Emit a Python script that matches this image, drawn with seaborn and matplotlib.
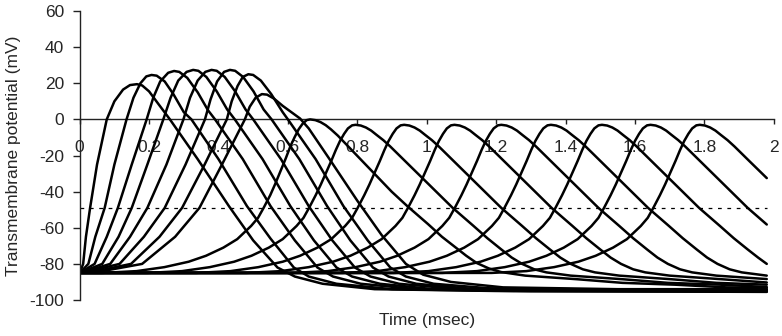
import numpy as np
import pandas as pd
import seaborn as sns
import matplotlib
matplotlib.use("Agg")
import matplotlib.pyplot as plt

# action potential traces: time (msec) and potential (mV)
times = [
    [0, 0.01, 0.018, 0.03, 0.05, 0.078, 0.1, 0.125, 0.145, 0.165, 0.18, 0.2, 0.225, 0.26, 0.34, 0.43, 0.5, 0.57, 0.62, 0.7, 0.85, 1.2, 1.98],
    [0, 0.025, 0.045, 0.072, 0.1, 0.135, 0.155, 0.175, 0.192, 0.207, 0.222, 0.245, 0.27, 0.3, 0.322, 0.4, 0.482, 0.55, 0.617, 0.66, 0.74, 0.9, 1.25, 1.98],
    [0, 0.043, 0.078, 0.11, 0.15, 0.193, 0.212, 0.232, 0.255, 0.272, 0.287, 0.31, 0.34, 0.37, 0.39, 0.47, 0.55, 0.62, 0.685, 0.73, 0.81, 0.97, 1.3, 1.98],
    [0, 0.065, 0.112, 0.15, 0.195, 0.241, 0.262, 0.284, 0.308, 0.327, 0.342, 0.365, 0.395, 0.425, 0.447, 0.527, 0.607, 0.675, 0.74, 0.785, 0.865, 1.02, 1.35, 1.98],
    [0, 0.02, 0.088, 0.145, 0.195, 0.25, 0.299, 0.318, 0.34, 0.362, 0.38, 0.395, 0.418, 0.448, 0.478, 0.5, 0.58, 0.66, 0.728, 0.793, 0.838, 0.92, 1.08, 1.4, 1.98],
    [0, 0.04, 0.115, 0.185, 0.245, 0.305, 0.361, 0.377, 0.396, 0.416, 0.433, 0.448, 0.471, 0.501, 0.53, 0.553, 0.633, 0.713, 0.78, 0.845, 0.89, 0.97, 1.13, 1.45, 1.98],
    [0, 0.06, 0.148, 0.23, 0.295, 0.36, 0.424, 0.438, 0.455, 0.47, 0.486, 0.5, 0.522, 0.552, 0.585, 0.6, 0.68, 0.76, 0.83, 0.895, 0.94, 1.02, 1.18, 1.5, 1.98],
    [0, 0.08, 0.18, 0.275, 0.345, 0.41, 0.476, 0.49, 0.507, 0.525, 0.54, 0.56, 0.585, 0.61, 0.635, 0.66, 0.72, 0.8, 0.87, 0.94, 0.99, 1.07, 1.22, 1.55, 1.98],
    [0, 0.064, 0.164, 0.244, 0.314, 0.364, 0.414, 0.454, 0.494, 0.514, 0.53, 0.549, 0.564, 0.579, 0.594, 0.607, 0.619, 0.631, 0.642, 0.654, 0.664,
     0.679, 0.694, 0.709, 0.724, 0.744, 0.764, 0.809, 0.854, 0.899, 0.944, 1.004, 1.044, 1.084, 1.114, 1.144, 1.179, 1.214, 1.284, 1.434, 1.564, 1.714, 1.864, 1.98],
    [0, 0.195, 0.295, 0.375, 0.445, 0.495, 0.545, 0.585, 0.625, 0.645, 0.661, 0.68, 0.695, 0.71, 0.725, 0.738, 0.75, 0.762, 0.773, 0.785, 0.795,
     0.81, 0.825, 0.84, 0.855, 0.875, 0.895, 0.94, 0.985, 1.03, 1.075, 1.135, 1.175, 1.215, 1.245, 1.275, 1.31, 1.345, 1.415, 1.565, 1.695, 1.845, 1.98],
    [0, 0.335, 0.435, 0.515, 0.585, 0.635, 0.685, 0.725, 0.765, 0.785, 0.801, 0.82, 0.835, 0.85, 0.865, 0.878, 0.89, 0.902, 0.913, 0.925, 0.935,
     0.95, 0.965, 0.98, 0.995, 1.015, 1.035, 1.08, 1.125, 1.17, 1.215, 1.275, 1.315, 1.355, 1.385, 1.415, 1.45, 1.485, 1.555, 1.705, 1.835, 1.98],
    [0, 0.48, 0.58, 0.66, 0.73, 0.78, 0.83, 0.87, 0.91, 0.93, 0.946, 0.965, 0.98, 0.995, 1.01, 1.023, 1.035, 1.047, 1.058, 1.07, 1.08,
     1.095, 1.11, 1.125, 1.14, 1.16, 1.18, 1.225, 1.27, 1.315, 1.36, 1.42, 1.46, 1.5, 1.53, 1.56, 1.595, 1.63, 1.7, 1.85, 1.98],
    [0, 0.615, 0.715, 0.795, 0.865, 0.915, 0.965, 1.005, 1.045, 1.065, 1.081, 1.1, 1.115, 1.13, 1.145, 1.158, 1.17, 1.182, 1.193, 1.205, 1.215,
     1.23, 1.245, 1.26, 1.275, 1.295, 1.315, 1.36, 1.405, 1.45, 1.495, 1.555, 1.595, 1.635, 1.665, 1.695, 1.73, 1.765, 1.835, 1.98],
    [0, 0.758, 0.858, 0.938, 1.008, 1.058, 1.108, 1.148, 1.188, 1.208, 1.224, 1.243, 1.258, 1.273, 1.288, 1.301, 1.313, 1.325, 1.336, 1.348, 1.358,
     1.373, 1.388, 1.403, 1.418, 1.438, 1.458, 1.503, 1.548, 1.593, 1.638, 1.698, 1.738, 1.778, 1.808, 1.838, 1.873, 1.908, 1.98],
    [0, 0.905, 1.005, 1.085, 1.155, 1.205, 1.255, 1.295, 1.335, 1.355, 1.371, 1.39, 1.405, 1.42, 1.435, 1.448, 1.46, 1.472, 1.483, 1.495, 1.505,
     1.52, 1.535, 1.55, 1.565, 1.585, 1.605, 1.65, 1.695, 1.74, 1.785, 1.845, 1.885, 1.925, 1.955, 1.98],
    [0, 1.045, 1.145, 1.225, 1.295, 1.345, 1.395, 1.435, 1.475, 1.495, 1.511, 1.53, 1.545, 1.56, 1.575, 1.588, 1.6, 1.612, 1.623, 1.635, 1.645,
     1.66, 1.675, 1.69, 1.705, 1.725, 1.745, 1.79, 1.835, 1.88, 1.925, 1.98],
    [0, 1.187, 1.287, 1.367, 1.437, 1.487, 1.537, 1.577, 1.617, 1.637, 1.653, 1.672, 1.687, 1.702, 1.717, 1.73, 1.742, 1.754, 1.765, 1.777, 1.787,
     1.802, 1.817, 1.832, 1.847, 1.867, 1.887, 1.932, 1.98],
]
volts = [
    [-85, -80, -65, -49, -25, 0, 10, 16.5, 19, 19.5, 18.8, 15.5, 9, 0, -22, -48, -67, -82, -87, -91, -94, -95, -95.5],
    [-85, -80, -65, -49, -25, 0, 12, 20, 23.8, 24.6, 24.2, 21, 14, 4, 0, -22, -48, -66, -82, -87, -91, -94, -95, -95.3],
    [-85, -80, -65, -49, -25, 0, 12, 21, 25.8, 26.8, 26.3, 23, 15, 5, 0, -22, -48, -67, -82, -87, -91, -94, -95, -95.2],
    [-85, -80, -65, -49, -25, 0, 12, 21.5, 26.3, 27.4, 26.9, 23.5, 15.5, 5.5, 0, -22, -48, -67, -82, -87, -91, -94, -94.8, -94.9],
    [-85, -84, -80, -65, -49, -25, 0, 12, 21.5, 26.3, 27.4, 26.9, 23.5, 15.5, 5.5, 0, -22, -48, -67, -82, -87, -91, -93.8, -94.6, -94.7],
    [-85, -83.5, -80, -65, -49, -25, 0, 11, 21, 26.3, 27.4, 26.9, 23.5, 15.5, 5.5, 0, -22, -48, -67, -82, -87, -91, -93.8, -94.5, -94.5],
    [-85, -83.5, -80, -65, -49, -25, 0, 10, 18.5, 23.5, 25, 24.6, 21.5, 14, 4, 0, -22, -48, -67, -82, -87, -91, -93.5, -94.2, -94.3],
    [-85, -83.5, -80, -65, -49, -25, 0, 7, 12, 14, 13.7, 11.5, 7.5, 4, 0.5, -5, -22, -45, -64, -80, -86, -90, -93, -94, -94],
    [-85, -85, -84, -81.8, -78.8, -75.5, -71, -66.3, -59, -54.5, -49, -42, -35.5, -28.5, -21.5, -15, -10, -5.5, -2.5, -0.4, 0,
     -0.4, -1.5, -3.2, -5.5, -9, -13, -22, -31, -40, -48, -58, -65, -71, -75.5, -79.5, -82.5, -84.5, -86.5, -88.5, -90.5, -91.5, -93, -93.3],
    [-85, -85, -84, -81.8, -78.8, -75.5, -71, -66.3, -59, -54.5, -49, -42, -36, -29.5, -23, -17, -12, -8, -5, -3.3, -3,
     -3.4, -4.5, -6.2, -8.5, -11.5, -15, -23.5, -32, -40.5, -49, -59, -65.8, -72, -76.5, -80, -83, -84.7, -86.5, -88.5, -90.5, -91.5, -92.8],
    [-85, -85, -84, -81.8, -78.8, -75.5, -71, -66.3, -59, -54.5, -49, -42, -36, -29.5, -23, -17, -12, -8, -5, -3.3, -3,
     -3.4, -4.5, -6.2, -8.5, -11.5, -15, -23.5, -32, -40.5, -49, -59, -65.8, -72, -76.5, -80, -83, -84.7, -86.5, -88.5, -90.5, -91.5],
    [-85, -85, -84, -81.8, -78.8, -75.5, -71, -66.3, -59, -54.5, -49, -42, -36, -29.5, -23, -17, -12, -8, -5, -3.3, -3,
     -3.4, -4.5, -6.2, -8.5, -11.5, -15, -23.5, -32, -40.5, -49, -59, -65.8, -72, -76.5, -80, -83, -84.7, -86.5, -88.5, -90.3],
    [-85, -85, -84, -81.8, -78.8, -75.5, -71, -66.3, -59, -54.5, -49, -42, -36, -29.5, -23, -17, -12, -8, -5, -3.3, -3,
     -3.4, -4.5, -6.2, -8.5, -11.5, -15, -23.5, -32, -40.5, -49, -59, -65.8, -72, -76.5, -80, -83, -84.7, -86.5, -88.4],
    [-85, -85, -84, -81.8, -78.8, -75.5, -71, -66.3, -59, -54.5, -49, -42, -36, -29.5, -23, -17, -12, -8, -5, -3.3, -3,
     -3.4, -4.5, -6.2, -8.5, -11.5, -15, -23.5, -32, -40.5, -49, -59, -65.8, -72, -76.5, -80, -83, -84.7, -86.5],
    [-85, -85, -84, -81.8, -78.8, -75.5, -71, -66.3, -59, -54.5, -49, -42, -36, -29.5, -23, -17, -12, -8, -5, -3.3, -3,
     -3.4, -4.5, -6.2, -8.5, -11.5, -15, -23.5, -32, -40.5, -49, -59, -65.8, -72, -76.5, -80],
    [-85, -85, -84, -81.8, -78.8, -75.5, -71, -66.3, -59, -54.5, -49, -42, -36, -29.5, -23, -17, -12, -8, -5, -3.3, -3,
     -3.4, -4.5, -6.2, -8.5, -11.5, -15, -23.5, -32, -40.5, -49, -58.2],
    [-85, -85, -84, -81.8, -78.8, -75.5, -71, -66.3, -59, -54.5, -49, -42, -36, -29.5, -23, -17, -12, -8, -5, -3.3, -3,
     -3.4, -4.5, -6.2, -8.5, -11.5, -15, -23.5, -32.5],
]
threshold = -49
threshold_span = [0, 1.98]
x_ticks = [0, 0.2, 0.4, 0.6, 0.8, 1.0, 1.2, 1.4, 1.6, 1.8, 2.0]
x_labels = ["0", "0.2", "0.4", "0.6", "0.8", "1", "1.2", "1.4", "1.6", "1.8", "2"]
y_ticks = [-100, -80, -60, -40, -20, 0, 20, 40, 60]

rows = []
for i, (ts, vs) in enumerate(zip(times, volts)):
    for t, v in zip(ts, vs):
        rows.append({"trace": i, "time": t, "potential": v})
df = pd.DataFrame(rows)

sns.set_style("white")
plt.rcParams['font.family'] = ['Liberation Sans', 'DejaVu Sans']
plt.rcParams['axes.unicode_minus'] = False

fig = plt.figure(figsize=(7.82, 3.36), dpi=100)
ax = fig.add_axes([0.1019, 0.1071, 0.8875, 0.8601])

sns.lineplot(data=df, x="time", y="potential", units="trace", estimator=None,
             sort=False, color="black", lw=1.8, ax=ax, legend=False,
             solid_joinstyle="round")
ax.plot(threshold_span, [threshold, threshold], color="black", lw=0.9, ls=(0, (3, 4.5)))

ax.set_xlim(0, 2)
ax.set_ylim(-100, 60)
ax.set_xticks(x_ticks)
ax.set_xticklabels(x_labels)
ax.set_yticks(y_ticks)

for s in ["top", "right"]:
    ax.spines[s].set_visible(False)
ax.spines["bottom"].set_position(("data", 0))
ax.spines["bottom"].set_zorder(0)
for s in ["bottom", "left"]:
    ax.spines[s].set_color("#222222")
    ax.spines[s].set_linewidth(1.0)

ax.tick_params(axis="x", direction="out", length=3.6, width=1.0, pad=11,
               color="#222222", labelsize=12.5, bottom=True)
ax.tick_params(axis="y", direction="out", length=5.3, width=1.0, pad=6,
               color="#222222", labelsize=12.5, left=True)

ax.set_xlabel("Time (msec)", fontsize=12.5)
ax.set_ylabel("Transmembrane potential (mV)", fontsize=12.5)
ax.xaxis.set_label_coords(0.5, -0.045)
ax.yaxis.set_label_coords(-0.085, 0.5)

fig.savefig("out.png", dpi=100)
